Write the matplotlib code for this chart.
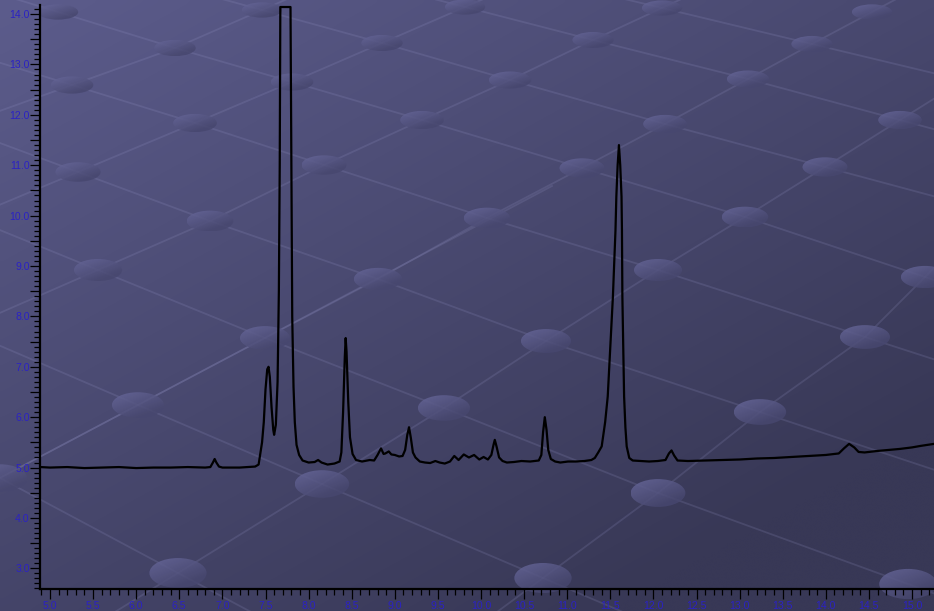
import numpy as np
import matplotlib
matplotlib.use("Agg")
import matplotlib.pyplot as plt
from matplotlib.patches import Ellipse
from matplotlib.ticker import MultipleLocator, FuncFormatter

# ---- chromatogram trace: retention time (min) and detector signal ----
time_min = [
    4.89, 5.0, 5.2, 5.4, 5.6, 5.8, 6.0, 6.2, 6.4, 6.6, 6.8, 6.86, 6.89, 6.91, 6.93, 6.96,
    7.0, 7.2, 7.38, 7.42, 7.46, 7.48, 7.50, 7.52, 7.535, 7.55, 7.57, 7.59, 7.60, 7.62,
    7.64, 7.655, 7.665, 7.672, 7.79, 7.80, 7.81, 7.825, 7.84, 7.86, 7.89, 7.93, 8.0,
    8.07, 8.11, 8.15, 8.22, 8.30, 8.36, 8.38, 8.40, 8.42, 8.43, 8.44, 8.46, 8.48, 8.51,
    8.55, 8.62, 8.71, 8.76, 8.80, 8.84, 8.87, 8.89, 8.93, 8.96, 9.00, 9.05, 9.09, 9.12,
    9.145, 9.165, 9.185, 9.21, 9.24, 9.29, 9.35, 9.41, 9.47, 9.52, 9.58, 9.64, 9.69,
    9.74, 9.80, 9.86, 9.92, 9.98, 10.03, 10.08, 10.12, 10.145, 10.16, 10.18, 10.21,
    10.25, 10.30, 10.38, 10.47, 10.57, 10.67, 10.70, 10.72, 10.74, 10.76, 10.78, 10.81,
    10.86, 10.92, 11.01, 11.10, 11.20, 11.28, 11.32, 11.36, 11.40, 11.44, 11.47, 11.50,
    11.53, 11.56, 11.57, 11.585, 11.60, 11.615, 11.63, 11.635, 11.64, 11.65, 11.66,
    11.675, 11.69, 11.72, 11.76, 11.85, 11.95, 12.05, 12.14, 12.18, 12.21, 12.24, 12.28,
    12.4, 12.6, 12.8, 13.0, 13.2, 13.4, 13.6, 13.8, 14.0, 14.15, 14.21, 14.27, 14.33,
    14.38, 14.45, 14.6, 14.86, 15.0, 15.1, 15.255,
]
signal = [
    5.01, 5.00, 5.01, 4.99, 5.00, 5.01, 4.99, 5.00, 5.00, 5.01, 5.00, 5.01, 5.10, 5.17, 5.10, 5.02,
    5.00, 5.00, 5.02, 5.06, 5.50, 5.90, 6.55, 6.95, 7.00, 6.80, 6.20, 5.75, 5.65, 5.85,
    6.70, 8.50, 11.0, 14.14, 14.14, 11.0, 8.0, 6.6, 5.9, 5.45, 5.25, 5.14, 5.10,
    5.11, 5.15, 5.10, 5.06, 5.08, 5.12, 5.30, 6.10, 7.20, 7.57, 7.30, 6.30, 5.60, 5.27,
    5.15, 5.12, 5.15, 5.14, 5.25, 5.38, 5.27, 5.28, 5.32, 5.26, 5.25, 5.22, 5.23, 5.35,
    5.65, 5.80, 5.60, 5.30, 5.20, 5.12, 5.10, 5.09, 5.13, 5.10, 5.08, 5.12, 5.23,
    5.15, 5.26, 5.20, 5.25, 5.16, 5.21, 5.16, 5.25, 5.45, 5.55, 5.42, 5.20,
    5.13, 5.10, 5.11, 5.13, 5.12, 5.14, 5.25, 5.70, 6.00, 5.75, 5.35, 5.17,
    5.12, 5.10, 5.12, 5.12, 5.13, 5.15, 5.19, 5.30, 5.42, 5.90, 6.41, 7.40,
    8.39, 9.71, 10.38, 11.0, 11.40, 11.0, 10.38, 9.71, 8.39, 7.40, 6.41,
    5.80, 5.42, 5.19, 5.14, 5.13, 5.12, 5.13, 5.15, 5.28, 5.34, 5.24, 5.14,
    5.13, 5.14, 5.15, 5.16, 5.18, 5.19, 5.21, 5.23, 5.25, 5.28, 5.38, 5.47, 5.40,
    5.31, 5.30, 5.33, 5.37, 5.40, 5.43, 5.47,
]

W, H, DPI = 934, 611, 100
fig = plt.figure(figsize=(W / DPI, H / DPI), dpi=DPI)

# ---- decorative slide-style backdrop (pixel coordinates) ----
bg = fig.add_axes([0, 0, 1, 1], zorder=-5)
bg.set_xlim(0, W)
bg.set_ylim(H, 0)
bg.axis("off")

gx, gy = np.meshgrid(np.linspace(0, 1, 200), np.linspace(0, 1, 140))
g = np.clip(0.55 * gx + 0.65 * gy, 0, 1)[..., None]
c_light = np.array([92, 92, 140]) / 255
c_dark = np.array([56, 56, 86]) / 255
bg.imshow(c_light * (1 - g) + c_dark * g, extent=(0, W, H, 0), aspect="auto",
          interpolation="bicubic", zorder=0)

chains = [
    [(58, 12), (175, 48), (292, 82), (422, 120), (582, 168), (745, 217), (925, 277)],
    [(72, 85), (195, 123), (324, 165), (487, 218), (658, 270), (865, 337)],
    [(78, 172), (210, 221), (378, 279), (546, 341), (760, 412)],
    [(98, 270), (265, 338), (444, 408), (658, 493), (908, 584)],
    [(138, 405), (322, 484), (543, 578)],
    [(0, 478), (178, 573)],
    [(262, 10), (382, 43), (510, 80), (665, 124), (825, 167)],
    [(465, 7), (593, 40), (748, 79), (900, 120)],
    [(662, 8), (812, 44)],
    [(78, 172), (195, 123), (292, 82), (382, 43), (465, 7)],
    [(98, 270), (210, 221), (324, 165), (422, 120), (510, 80), (593, 40), (662, 8)],
    [(138, 405), (265, 338), (378, 279), (487, 218), (582, 168), (665, 124), (748, 79),
     (812, 44), (872, 12)],
    [(178, 573), (322, 484), (444, 408), (546, 341), (658, 270), (745, 217), (825, 167),
     (900, 120)],
    [(543, 578), (658, 493), (760, 412), (865, 337), (925, 277)],
    [(72, 85), (175, 48), (262, 10)],
    [(0, 478), (138, 405)],
]
for ch in chains:
    p = np.array(ch, dtype=float)
    d0 = p[0] - p[1]
    d1 = p[-1] - p[-2]
    p = np.vstack([p[0] + d0 * 3, p, p[-1] + d1 * 3])
    bg.plot(p[:, 0], p[:, 1], color=(0.62, 0.62, 0.82), alpha=0.17, lw=1.3, zorder=1)

spots = sorted({pt for ch in chains for pt in ch})
eg = np.linspace(0, 1, 40)
ex, ey = np.meshgrid(eg, eg)
eshade = np.clip(0.55 * ex + 0.75 * ey, 0, 1)[..., None] / 1.3
e_light = np.array([104, 104, 155]) / 255
e_dark = np.array([62, 62, 98]) / 255
eimg = e_light * (1 - eshade) + e_dark * eshade
for (cx, cy) in spots:
    w = 40 + 0.03 * cy
    h = 15 + 0.026 * cy
    el = Ellipse((cx, cy), w, h, transform=bg.transData, facecolor="none", edgecolor="none")
    bg.add_patch(el)
    im = bg.imshow(eimg, extent=(cx - w / 2, cx + w / 2, cy + h / 2, cy - h / 2),
                   aspect="auto", interpolation="bicubic", zorder=2, alpha=0.85)
    im.set_clip_path(el)
bg.set_xlim(0, W)
bg.set_ylim(H, 0)

# ---- chromatogram axes ----
x0, x1 = 4.884, 15.255
y0, y1 = 2.59, 14.18
ax = fig.add_axes([40 / W, 22 / H, 1 - 40 / W, 584 / H])
ax.set_facecolor("none")
ax.plot(time_min, signal, color="black", lw=1.6, zorder=5)
ax.set_xlim(x0, x1)
ax.set_ylim(y0, y1)

for s in ("top", "right"):
    ax.spines[s].set_visible(False)
for s in ("left", "bottom"):
    ax.spines[s].set_linewidth(1.6)
    ax.spines[s].set_color("black")

ax.xaxis.set_major_locator(MultipleLocator(0.5))
ax.xaxis.set_minor_locator(MultipleLocator(0.1))
ax.yaxis.set_major_locator(MultipleLocator(0.5))
ax.yaxis.set_minor_locator(MultipleLocator(0.1))
ax.xaxis.set_major_formatter(FuncFormatter(lambda v, p: f"{v:.1f}"))
ax.yaxis.set_major_formatter(
    FuncFormatter(lambda v, p: f"{v:.1f}" if abs(v - round(v)) < 1e-6 else ""))

ax.tick_params(axis="both", which="major", length=7, width=0.9, color="black",
               labelcolor="#2b22c4", labelsize=7.6)
ax.tick_params(axis="both", which="minor", length=4.2, width=0.9, color="black")
ax.tick_params(axis="x", which="major", pad=1.5)
ax.tick_params(axis="y", which="major", pad=0.5)
for lab in ax.get_xticklabels() + ax.get_yticklabels():
    lab.set_fontfamily(["Liberation Sans", "DejaVu Sans"])

fig.savefig("out.png", dpi=DPI)
